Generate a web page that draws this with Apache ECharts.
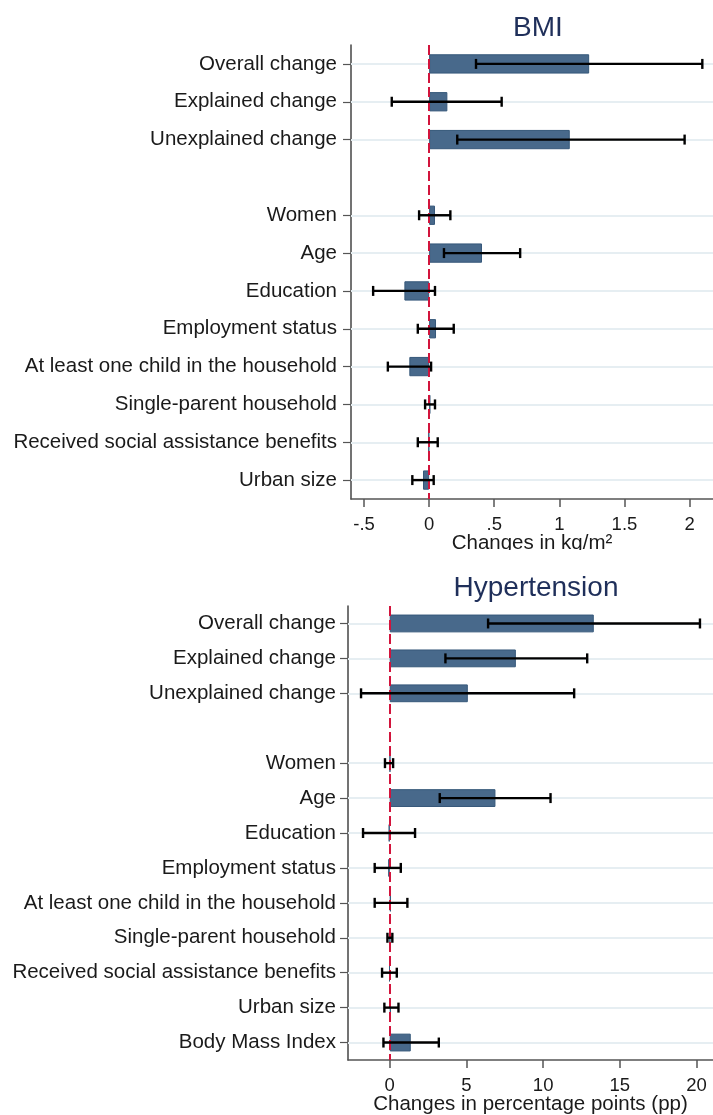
<!DOCTYPE html>
<html>
<head>
<meta charset="utf-8">
<script src="https://cdn.jsdelivr.net/npm/echarts@6/dist/echarts.min.js"></script>
<style>
  html, body { margin: 0; padding: 0; background: #ffffff; }
  #wrap { position: relative; width: 713px; height: 1115px; overflow: hidden; }
  #c1 { position: absolute; left: 0; top: 0; width: 713px; height: 550px; }
  #c2 { position: absolute; left: 0; top: 550px; width: 713px; height: 565px; }
</style>
</head>
<body>
<div id="wrap"><div id="c1"></div><div id="c2"></div></div>
<script>
// ---------- BMI panel ----------
const bmiCategories = ['Overall change', 'Explained change', 'Unexplained change', '',
  'Women', 'Age', 'Education', 'Employment status', 'At least one child in the household',
  'Single-parent household', 'Received social assistance benefits', 'Urban size'];
const bmiValues = [1.229, 0.14, 1.08, null, 0.045, 0.406, -0.19, 0.053, -0.152, 0.01, -0.005, -0.047];
const bmiLower  = [0.36, -0.287, 0.216, null, -0.077, 0.114, -0.43, -0.087, -0.317, -0.031, -0.087, -0.129];
const bmiUpper  = [2.098, 0.557, 1.962, null, 0.163, 0.699, 0.045, 0.189, 0.015, 0.045, 0.066, 0.035];
const bmiTickValues = [-0.5, 0, 0.5, 1, 1.5, 2];
const bmiTickLabels = ['-.5', '0', '.5', '1', '1.5', '2'];

// ---------- Hypertension panel ----------
const hypCategories = ['Overall change', 'Explained change', 'Unexplained change', '',
  'Women', 'Age', 'Education', 'Employment status', 'At least one child in the household',
  'Single-parent household', 'Received social assistance benefits', 'Urban size', 'Body Mass Index'];
const hypValues = [13.3, 8.22, 5.09, null, 0.03, 6.89, -0.07, -0.1, 0.08, 0.02, -0.03, 0.08, 1.37];
const hypLower  = [6.41, 3.63, -1.87, null, -0.31, 3.26, -1.74, -0.98, -0.98, -0.15, -0.5, -0.35, -0.41];
const hypUpper  = [20.22, 12.87, 12.02, null, 0.22, 10.48, 1.65, 0.72, 1.15, 0.17, 0.46, 0.57, 3.2];
const hypTickValues = [0, 5, 10, 15, 20];
const hypTickLabels = ['0', '5', '10', '15', '20'];

const FONT = "'Liberation Sans', Arial, Helvetica, sans-serif";
const TEXT = '#1a1a1a';
const AXIS = '#555555';
const BAR_FILL = '#48698b';
const BAR_EDGE = '#36587a';
const GRID_LINE = '#e6eef2';
const ZERO_LINE = '#d2143c';

function buildOption(cfg) {
  const errData = cfg.categories.map((c, i) =>
    cfg.lower[i] == null ? null : [i, cfg.lower[i], cfg.upper[i]]).filter(d => d);
  const gridData = cfg.categories.map((c, i) => c === '' ? null : { yAxis: i }).filter(d => d);
  return {
    animation: false,
    textStyle: { fontFamily: FONT },
    title: {
      text: cfg.title,
      left: cfg.titleX,
      top: cfg.titleTop,
      textAlign: 'center',
      textStyle: { fontFamily: FONT, fontSize: 28, fontWeight: 'normal', color: '#1f2f5a' }
    },
    grid: Object.assign({ containLabel: false, outerBoundsMode: 'none' }, cfg.grid),
    xAxis: {
      type: 'value',
      min: cfg.min,
      max: cfg.max,
      name: cfg.xName,
      nameLocation: 'middle',
      nameGap: 34,
      nameMoveOverlap: false,
      nameTextStyle: { fontFamily: FONT, fontSize: 20.5, color: TEXT },
      axisLine: { show: true, onZero: false, lineStyle: { color: AXIS, width: 1.5 } },
      axisTick: { show: true, length: 8, customValues: cfg.tickValues, lineStyle: { color: AXIS, width: 1.5 } },
      axisLabel: {
        customValues: cfg.tickValues,
        margin: 16,
        fontSize: 18.5,
        color: TEXT,
        fontFamily: FONT,
        formatter: v => {
          const k = cfg.tickValues.findIndex(t => Math.abs(t - v) < 1e-9);
          return k >= 0 ? cfg.tickLabels[k] : '';
        }
      },
      splitLine: { show: false }
    },
    yAxis: {
      type: 'category',
      inverse: true,
      data: cfg.categories,
      axisLine: { show: true, onZero: false, lineStyle: { color: '#444444', width: 1.5 } },
      axisTick: {
        show: true, length: 8, alignWithLabel: true,
        interval: (idx, val) => val !== '',
        lineStyle: { color: AXIS, width: 1.2 }
      },
      axisLabel: { interval: 0, margin: cfg.labelMargin, fontSize: 20.5, color: TEXT, fontFamily: FONT },
      splitLine: { show: false }
    },
    series: [
      {
        name: 'grid',
        type: 'line',
        data: [],
        z: 1,
        silent: true,
        markLine: {
          z: 1,
          silent: true, symbol: 'none', animation: false,
          label: { show: false },
          lineStyle: { color: GRID_LINE, width: 2, type: 'solid' },
          data: gridData
        }
      },
      {
        name: 'estimate',
        type: 'bar',
        data: cfg.values,
        barWidth: '51%',
        z: 2,
        itemStyle: { color: BAR_FILL, borderColor: BAR_EDGE, borderWidth: 1 }
      },
      {
        name: 'zero',
        type: 'line',
        data: [],
        z: 3,
        silent: true,
        markLine: {
          z: 3,
          silent: true, symbol: 'none', animation: false,
          label: { show: false },
          lineStyle: { color: ZERO_LINE, width: 2, type: [10, 4] },
          data: [{ xAxis: 0 }]
        }
      },
      {
        name: 'ci',
        type: 'custom',
        z: 6,
        silent: true,
        data: errData,
        encode: { x: [1, 2], y: 0 },
        renderItem: (params, api) => {
          const y = api.value(0);
          const a = api.coord([api.value(1), y]);
          const b = api.coord([api.value(2), y]);
          const h = 5;
          const style = { stroke: '#000000', lineWidth: 2.4 };
          return {
            type: 'group',
            children: [
              { type: 'line', shape: { x1: a[0], y1: a[1], x2: b[0], y2: b[1] }, style },
              { type: 'line', shape: { x1: a[0], y1: a[1] - h, x2: a[0], y2: a[1] + h }, style },
              { type: 'line', shape: { x1: b[0], y1: b[1] - h, x2: b[0], y2: b[1] + h }, style }
            ]
          };
        }
      }
    ]
  };
}

const chart1 = echarts.init(document.getElementById('c1'), null, { renderer: 'canvas' });
chart1.setOption(buildOption({
  title: 'BMI', titleX: 533, titleTop: 9,
  grid: { left: 351, right: 0, top: 45, bottom: 51 },
  min: -0.6, max: 2.18,
  xName: 'Changes in kg/m²',
  tickValues: bmiTickValues, tickLabels: bmiTickLabels,
  categories: bmiCategories, values: bmiValues, lower: bmiLower, upper: bmiUpper,
  labelMargin: 14
}));

const chart2 = echarts.init(document.getElementById('c2'), null, { renderer: 'canvas' });
chart2.setOption(buildOption({
  title: 'Hypertension', titleX: 531, titleTop: 19,
  grid: { left: 348, right: 0, top: 56, bottom: 55 },
  min: -2.72, max: 21.07,
  xName: 'Changes in percentage points (pp)',
  tickValues: hypTickValues, tickLabels: hypTickLabels,
  categories: hypCategories, values: hypValues, lower: hypLower, upper: hypUpper,
  labelMargin: 12
}));
</script>
</body>
</html>
